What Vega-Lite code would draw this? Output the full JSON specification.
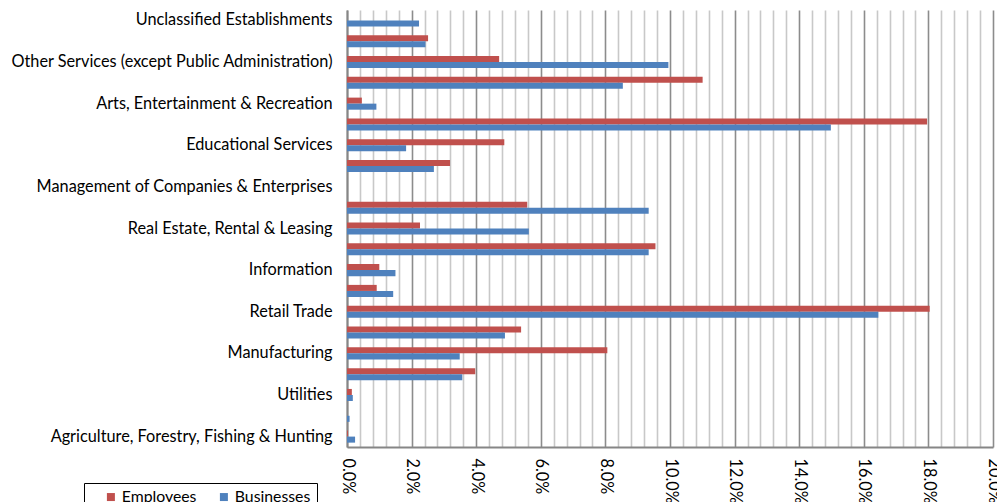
{
  "$schema": "https://vega.github.io/schema/vega-lite/v6.json",
  "width": 646,
  "height": 437,
  "autosize": {"type": "none"},
  "padding": {"left": 347, "top": 10, "right": 4, "bottom": 55},
  "background": "white",
  "config": {"view": {"stroke": null}, "font": "Lato"},
  "data": {
    "values": [
      {"sector": "Unclassified Establishments", "series": "Employees", "share": 0},
      {"sector": "Unclassified Establishments", "series": "Businesses", "share": 0.0223},
      {"sector": "Public Administration", "series": "Employees", "share": 0.0251},
      {"sector": "Public Administration", "series": "Businesses", "share": 0.0243},
      {"sector": "Other Services (except Public Administration)", "series": "Employees", "share": 0.0471},
      {"sector": "Other Services (except Public Administration)", "series": "Businesses", "share": 0.0995},
      {"sector": "Accommodation & Food Services", "series": "Employees", "share": 0.1101},
      {"sector": "Accommodation & Food Services", "series": "Businesses", "share": 0.0854},
      {"sector": "Arts, Entertainment & Recreation", "series": "Employees", "share": 0.0046},
      {"sector": "Arts, Entertainment & Recreation", "series": "Businesses", "share": 0.0091},
      {"sector": "Health Care & Social Assistance", "series": "Employees", "share": 0.1796},
      {"sector": "Health Care & Social Assistance", "series": "Businesses", "share": 0.1498},
      {"sector": "Educational Services", "series": "Employees", "share": 0.0487},
      {"sector": "Educational Services", "series": "Businesses", "share": 0.0183},
      {"sector": "Administrative, Support & Waste Management", "series": "Employees", "share": 0.0319},
      {"sector": "Administrative, Support & Waste Management", "series": "Businesses", "share": 0.0269},
      {"sector": "Management of Companies & Enterprises", "series": "Employees", "share": 0},
      {"sector": "Management of Companies & Enterprises", "series": "Businesses", "share": 0},
      {"sector": "Professional, Scientific & Technical Services", "series": "Employees", "share": 0.0558},
      {"sector": "Professional, Scientific & Technical Services", "series": "Businesses", "share": 0.0934},
      {"sector": "Real Estate, Rental & Leasing", "series": "Employees", "share": 0.0226},
      {"sector": "Real Estate, Rental & Leasing", "series": "Businesses", "share": 0.0563},
      {"sector": "Finance & Insurance", "series": "Employees", "share": 0.0955},
      {"sector": "Finance & Insurance", "series": "Businesses", "share": 0.0934},
      {"sector": "Information", "series": "Employees", "share": 0.0100},
      {"sector": "Information", "series": "Businesses", "share": 0.0150},
      {"sector": "Transportation & Warehousing", "series": "Employees", "share": 0.0092},
      {"sector": "Transportation & Warehousing", "series": "Businesses", "share": 0.0143},
      {"sector": "Retail Trade", "series": "Employees", "share": 0.1804},
      {"sector": "Retail Trade", "series": "Businesses", "share": 0.1645},
      {"sector": "Wholesale Trade", "series": "Employees", "share": 0.0539},
      {"sector": "Wholesale Trade", "series": "Businesses", "share": 0.0489},
      {"sector": "Manufacturing", "series": "Employees", "share": 0.0806},
      {"sector": "Manufacturing", "series": "Businesses", "share": 0.0349},
      {"sector": "Construction", "series": "Employees", "share": 0.0397},
      {"sector": "Construction", "series": "Businesses", "share": 0.0357},
      {"sector": "Utilities", "series": "Employees", "share": 0.0015},
      {"sector": "Utilities", "series": "Businesses", "share": 0.0018},
      {"sector": "Mining, Quarrying & Oil and Gas Extraction", "series": "Employees", "share": 0},
      {"sector": "Mining, Quarrying & Oil and Gas Extraction", "series": "Businesses", "share": 0.0008},
      {"sector": "Agriculture, Forestry, Fishing & Hunting", "series": "Employees", "share": 0.0003},
      {"sector": "Agriculture, Forestry, Fishing & Hunting", "series": "Businesses", "share": 0.0025}
    ]
  },
  "mark": {"type": "bar"},
  "encoding": {
    "y": {
      "field": "sector",
      "type": "nominal",
      "sort": null,
      "scale": {"paddingInner": 0.42, "paddingOuter": 0.21},
      "axis": {
        "title": null,
        "values": ["Unclassified Establishments", "Other Services (except Public Administration)", "Arts, Entertainment & Recreation", "Educational Services", "Management of Companies & Enterprises", "Real Estate, Rental & Leasing", "Information", "Retail Trade", "Manufacturing", "Utilities", "Agriculture, Forestry, Fishing & Hunting"],
        "ticks": false,
        "grid": false,
        "domainColor": "#868686",
        "domainWidth": 2,
        "labelFont": "Lato",
        "labelFontSize": 16.3,
        "labelColor": "#000000",
        "labelPadding": 15,
        "labelLimit": 400
      }
    },
    "yOffset": {
      "field": "series",
      "type": "nominal",
      "sort": ["Employees", "Businesses"],
      "scale": {"paddingInner": 0, "paddingOuter": 0}
    },
    "x": {
      "field": "share",
      "type": "quantitative",
      "scale": {"domain": [0, 0.2], "nice": false, "zero": true},
      "axis": {
        "title": null,
        "format": ".1%",
        "values": [0, 0.004, 0.008, 0.012, 0.016, 0.02, 0.024, 0.028, 0.032, 0.036, 0.04, 0.044, 0.048, 0.052, 0.056, 0.06, 0.064, 0.068, 0.072, 0.076, 0.08, 0.084, 0.088, 0.092, 0.096, 0.1, 0.104, 0.108, 0.112, 0.116, 0.12, 0.124, 0.128, 0.132, 0.136, 0.14, 0.144, 0.148, 0.152, 0.156, 0.16, 0.164, 0.168, 0.172, 0.176, 0.18, 0.184, 0.188, 0.192, 0.196, 0.2],
        "labelExpr": "round(datum.value * 1000) % 20 === 0 ? datum.label : ''",
        "labelOverlap": false,
        "labelAngle": 90,
        "labelAlign": "left",
        "labelBaseline": "middle",
        "labelFont": "Lato",
        "labelFontSize": 16.3,
        "labelColor": "#000000",
        "labelPadding": 11,
        "ticks": false,
        "grid": true,
        "gridColor": {"condition": {"test": "round(datum.value * 1000) % 20 === 0", "value": "#8C8C8C"}, "value": "#C8C8C8"},
        "gridWidth": 1.6,
        "domainColor": "#868686",
        "domainWidth": 2
      }
    },
    "color": {
      "field": "series",
      "type": "nominal",
      "scale": {"domain": ["Employees", "Businesses"], "range": ["#C0504D", "#4F81BD"]},
      "legend": {
        "title": null,
        "orient": "none",
        "direction": "horizontal",
        "legendX": -263,
        "legendY": 473,
        "symbolType": "square",
        "symbolSize": 64,
        "symbolStrokeWidth": 0,
        "symbolOffset": 13,
        "labelFont": "Lato",
        "labelFontSize": 15.8,
        "labelColor": "#000000",
        "labelOffset": 3,
        "columnPadding": 6,
        "padding": 6,
        "strokeColor": "#000000",
        "fillColor": "#FFFFFF"
      }
    }
  }
}
